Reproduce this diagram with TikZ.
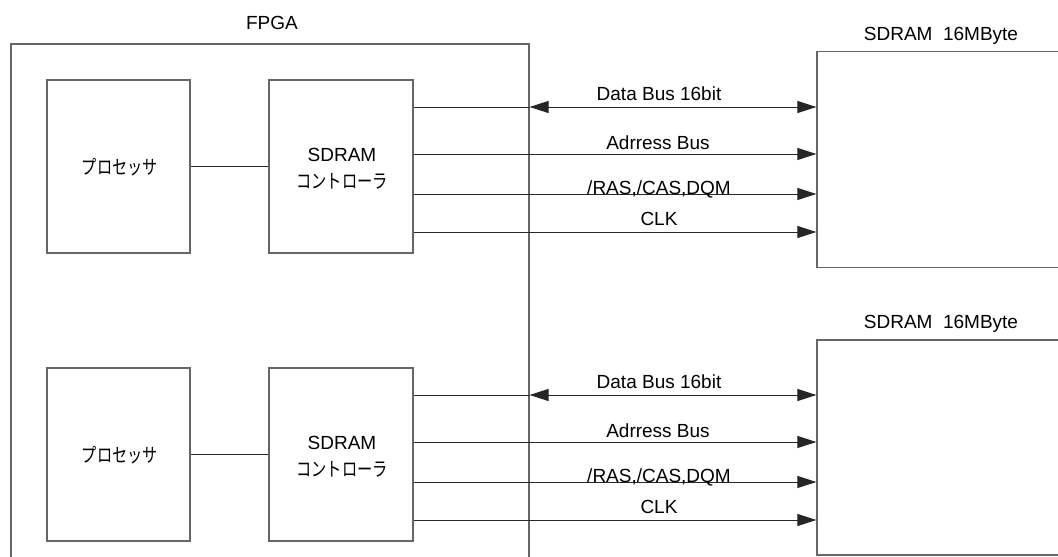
\documentclass[tikz,border=0pt]{standalone}
\usepackage{fontspec}
\setmainfont{Liberation Sans}
\newfontfamily\jp[FakeStretch=0.78]{Noto Sans CJK JP}
\usetikzlibrary{arrows.meta}

\tikzset{
	box/.style={draw=black!60,line width=1.2pt,inner sep=0pt},
	sig/.style={draw=black!85,line width=1pt},
	tip/.style={-{Triangle[length=19pt,width=12pt]}},
	bitip/.style={{Triangle[length=19pt,width=12pt]}-{Triangle[length=19pt,width=12pt]}},
	lbl/.style={font=\fontsize{19}{21}\selectfont,inner sep=0pt},
	jlbl/.style={font=\jp\fontsize{19.5}{21}\selectfont,inner sep=0pt}
}

\begin{document}
\begin{tikzpicture}[x=1pt,y=-1pt]
		\useasboundingbox (0,0) rectangle (1058,557);
		% FPGA
		\node[box,minimum width=518pt,minimum height=531pt] (fpga) at (270,309.5) {};
		\node[lbl] (fpgalab) at (272,23) {FPGA};
		% upper half
		\node[box,minimum width=143pt,minimum height=173pt] (proc1) at (118.5,166.5) {};
		\node[box,minimum width=144pt,minimum height=173pt] (ctrl1) at (341,166.5) {};
		\node[box,minimum width=258pt,minimum height=216pt] (sdram1) at (946,159.7) {};
		\node[jlbl] (plab1) at (120,167) {プロセッサ};
		\node[lbl] (clab1a) at (342,155) {SDRAM};
		\node[jlbl] (clab1b) at (342,181) {コントローラ};
		\node[lbl] (slab1) at (941,36) {SDRAM\ \ 16MByte};
		\coordinate (db1) at (0,107);
		\coordinate (ab1) at (0,154);
		\coordinate (rs1) at (0,194);
		\coordinate (ck1) at (0,232);
		\draw[sig] (proc1) -- (ctrl1);
		\draw[sig] (ctrl1.east |- db1) -- (fpga.east |- db1);
		\draw[sig,bitip] (fpga.east |- db1) -- (sdram1.west |- db1);
		\draw[sig,tip] (ctrl1.east |- ab1) -- (sdram1.west |- ab1);
		\draw[sig,tip] (ctrl1.east |- rs1) -- (sdram1.west |- rs1);
		\draw[sig,tip] (ctrl1.east |- ck1) -- (sdram1.west |- ck1);
		\node[lbl] (dlab1) at (659,94) {Data Bus 16bit};
		\node[lbl] (alab1) at (658,143) {Adrress Bus};
		\node[lbl] (rlab1) at (659,189) {/RAS,/CAS,DQM};
		\node[lbl] (klab1) at (659,219) {CLK};
		% lower half
		\node[box,minimum width=143pt,minimum height=173pt] (proc2) at (118.5,454.5) {};
		\node[box,minimum width=144pt,minimum height=173pt] (ctrl2) at (341,454.5) {};
		\node[box,minimum width=258pt,minimum height=215pt] (sdram2) at (946,447.5) {};
		\node[jlbl] (plab2) at (120,455) {プロセッサ};
		\node[lbl] (clab2a) at (342,443) {SDRAM};
		\node[jlbl] (clab2b) at (342,469) {コントローラ};
		\node[lbl] (slab2) at (941,324) {SDRAM\ \ 16MByte};
		\coordinate (db2) at (0,395);
		\coordinate (ab2) at (0,442);
		\coordinate (rs2) at (0,482);
		\coordinate (ck2) at (0,520);
		\draw[sig] (proc2) -- (ctrl2);
		\draw[sig] (ctrl2.east |- db2) -- (fpga.east |- db2);
		\draw[sig,bitip] (fpga.east |- db2) -- (sdram2.west |- db2);
		\draw[sig,tip] (ctrl2.east |- ab2) -- (sdram2.west |- ab2);
		\draw[sig,tip] (ctrl2.east |- rs2) -- (sdram2.west |- rs2);
		\draw[sig,tip] (ctrl2.east |- ck2) -- (sdram2.west |- ck2);
		\node[lbl] (dlab2) at (659,382) {Data Bus 16bit};
		\node[lbl] (alab2) at (658,431) {Adrress Bus};
		\node[lbl] (rlab2) at (659,477) {/RAS,/CAS,DQM};
		\node[lbl] (klab2) at (659,507) {CLK};
\end{tikzpicture}
\end{document}
